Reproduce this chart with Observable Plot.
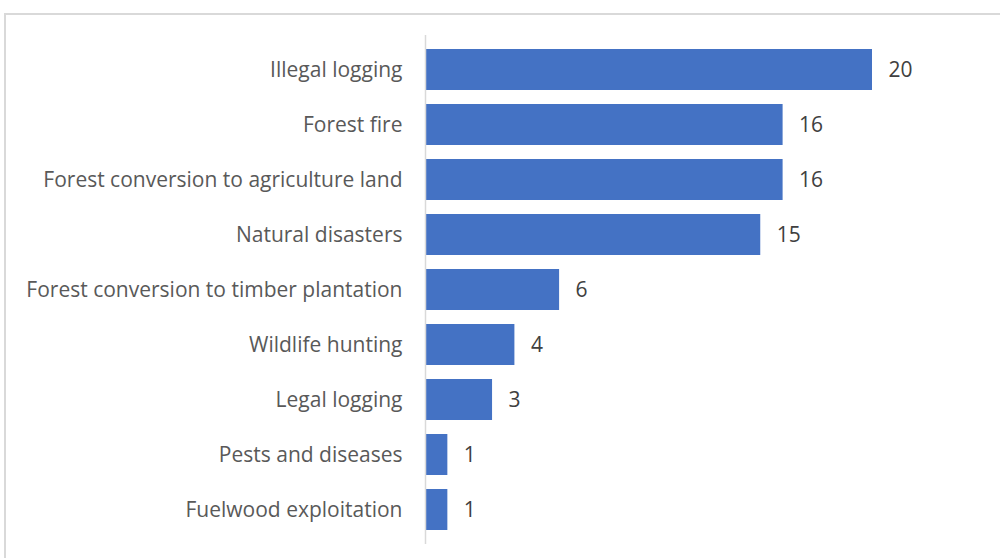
<!DOCTYPE html>
<html>
<head>
<meta charset="utf-8">
<script src="https://cdn.jsdelivr.net/npm/d3@7"></script>
<script src="https://cdn.jsdelivr.net/npm/@observablehq/plot@0.6"></script>
<style>
  html, body { margin: 0; padding: 0; background: #fff; overflow: hidden; }
  #frame { position: absolute; left: 4px; top: 13px; width: 1010px; height: 600px; border: 2px solid #d9d9d9; box-sizing: border-box; }
  #chart { position: absolute; left: 0; top: 0; }
</style>
</head>
<body>
<div id="frame"></div>
<div id="chart"></div>
<script>
const categories = [
  "Illegal logging",
  "Forest fire",
  "Forest conversion to agriculture land",
  "Natural disasters",
  "Forest conversion to timber plantation",
  "Wildlife hunting",
  "Legal logging",
  "Pests and diseases",
  "Fuelwood exploitation"
];
const values = [20, 16, 16, 15, 6, 4, 3, 1, 1];

const data = categories.map((c, i) => ({category: c, value: values[i]}));
const font = "'Open Sans', sans-serif";

const chart = Plot.plot({
  width: 1000,
  height: 558,
  marginLeft: 425,
  marginRight: 128,
  marginTop: 42,
  marginBottom: 21,
  style: {fontFamily: font, fontSize: "21px", background: "transparent"},
  x: {domain: [0, 20], axis: null},
  y: {domain: categories, paddingInner: 0.255, paddingOuter: 0.1275, label: null},
  marks: [
    Plot.axisY({tickSize: 0, tickPadding: 23, fontSize: 21, color: "#595959", label: null}),
    Plot.barX(data, {x: "value", y: "category", fill: "#4472C4"}),
    Plot.ruleX([0], {stroke: "#d9d9d9", strokeWidth: 1.5, insetTop: -7, insetBottom: -7}),
    Plot.text(data, {x: "value", y: "category", text: d => String(d.value), dx: 16, textAnchor: "start", fontSize: 21, fill: "#404040"})
  ]
});
document.getElementById("chart").appendChild(chart);
</script>
</body>
</html>
